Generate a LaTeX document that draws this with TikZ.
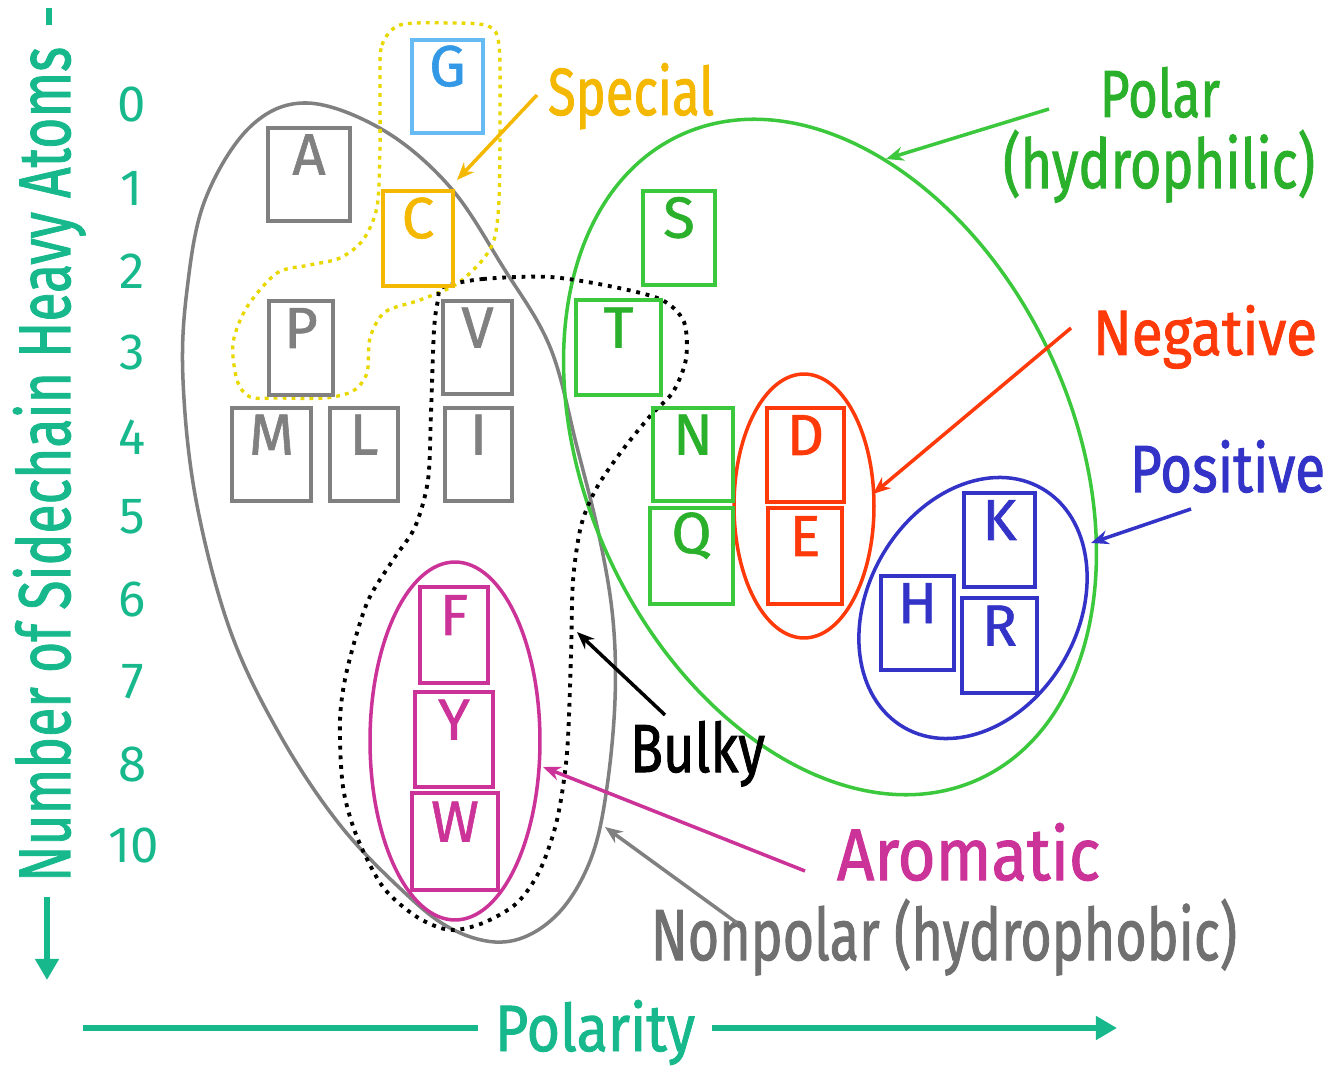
\documentclass[tikz,border=0pt]{standalone}
\usepackage{fontspec}
\setmainfont{Fira Sans}
\newfontfamily\lblfont{Fira Sans}[FakeBold=1.5]
\newfontfamily\boxfont{Fira Sans}[FakeBold=1]
\usetikzlibrary{arrows.meta,fit}
\newdimen\pxd \pxd=0.02cm
\newcommand{\fitt}[3]{\resizebox{#1\pxd}{#2\pxd}{\lblfont #3}}
\definecolor{axc}{HTML}{17B98C}
\definecolor{grayc}{HTML}{808080}
\definecolor{graytxt}{HTML}{707070}
\definecolor{greenc}{HTML}{3CC83C}
\definecolor{greentxt}{HTML}{2BB02B}
\definecolor{redc}{HTML}{FF3A0A}
\definecolor{bluec}{HTML}{3333C8}
\definecolor{magc}{HTML}{CC3399}
\definecolor{yelc}{HTML}{F5B800}
\definecolor{yeldot}{HTML}{E8D800}
\definecolor{gblue}{HTML}{66BBF5}
\definecolor{gtxt}{HTML}{3399E6}
\begin{document}
\begin{tikzpicture}[x=0.02cm, y=-0.02cm,
  lbl/.style={anchor=base west, inner sep=0pt, outer sep=0pt},
  abox/.style={draw=#1, text=#1, line width=2.2pt, inner sep=0pt, text height=22.7pt, text depth=17pt, font=\boxfont\fontsize{33}{33}\selectfont},
  arr/.style={draw=#1, line width=2pt, -{Stealth[length=10pt,width=8pt]}},
  ring/.style={draw=#1, line width=2pt},
  axline/.style={draw=axc, line width=3.4pt},
  num/.style={text=axc, inner sep=0pt, font=\fontsize{29}{29}\selectfont}
]
\useasboundingbox[fill=white] (0,0) rectangle (1329,1077);

% ---- group outlines ----
\draw[ring=grayc] plot[smooth cycle, tension=0.6] coordinates {
 (307,103) (383,130) (450,187) (503,267) (550,347) (577,447) (600,540) (613,620)
 (615,700) (607,787) (593,853) (567,903) (533,933) (495,942) (450,928) (405,893)
 (340,825) (280,735) (230,630) (196,500) (183,380) (187,290) (205,200) (250,127)};
\draw[ring=greenc, rotate around={25:(830,457)}] (830,457) ellipse [x radius=4.86cm, y radius=7.1cm];
\draw[ring=redc] (804,506) ellipse [x radius=1.4cm, y radius=2.64cm];
\draw[ring=bluec, rotate around={-30:(973,608)}] (973,608) ellipse [x radius=2.1cm, y radius=2.76cm];
\draw[ring=magc] (455,741) ellipse [x radius=1.7cm, y radius=3.58cm];
\draw[draw=yeldot, line width=1.9pt, dash pattern=on 2.2pt off 2.9pt] plot[smooth cycle, tension=0.5] coordinates {
 (380,80) (382,45) (400,25) (450,23) (488,26) (499,45) (500,120) (499,200) (494,240)
 (480,263) (455,285) (420,300) (385,312) (370,338) (367,373) (353,391) (325,398)
 (280,398) (250,397) (237,380) (233,343) (247,307) (277,273) (310,265) (340,258)
 (363,240) (377,207) (380,147)};
\draw[draw=black, line width=2.2pt, dash pattern=on 2.2pt off 3.3pt] plot[smooth cycle, tension=0.5] coordinates {
 (443,287) (483,279) (550,277) (614,287) (662,300) (684,322) (686,359) (673,392)
 (651,415) (621,452) (596,489) (581,526) (573,581) (571,655) (567,753) (557,820)
 (540,870) (517,903) (483,923) (450,930) (417,917) (383,887) (357,837) (343,787)
 (340,720) (347,670) (367,603) (393,560) (415,527) (428,480) (431,413) (434,330)
 (438,300)};

% ---- amino-acid boxes ----
\node[abox=gblue, text=gtxt, fit={(412,40) (483,133)}] (G) {G};
\node[abox=grayc, fit={(268,128) (350,221)}] (A) {A};
\node[abox=yelc, fit={(383,191) (453,286)}] (C) {C};
\node[abox=grayc, fit={(269,301) (333,395)}] (P) {P};
\node[abox=grayc, fit={(443,301) (512,394)}] (V) {V};
\node[abox=grayc, fit={(232,408) (311,501)}] (M) {M};
\node[abox=grayc, fit={(330,408) (398,501)}] (L) {L};
\node[abox=grayc, fit={(445,408) (512,501)}] (I) {I};
\node[abox=greenc, text=greentxt, fit={(643,191) (715,285)}] (S) {S};
\node[abox=greenc, text=greentxt, fit={(576,300) (661,395)}] (T) {T};
\node[abox=greenc, text=greentxt, fit={(653,408) (733,501)}] (N) {N};
\node[abox=greenc, text=greentxt, fit={(650,508) (733,604)}] (Q) {Q};
\node[abox=redc, fit={(767,408) (844,502)}] (D) {D};
\node[abox=redc, fit={(768,508) (842,604)}] (E) {E};
\node[abox=bluec, fit={(964,493) (1035,587)}] (K) {K};
\node[abox=bluec, fit={(881,576) (954,670)}] (H) {H};
\node[abox=bluec, fit={(962,598) (1037,693)}] (R) {R};
\node[abox=magc, fit={(420,587) (488,683)}] (F) {F};
\node[abox=magc, fit={(415,692) (493,787)}] (Y) {Y};
\node[abox=magc, fit={(412,793) (498,890)}] (W) {W};

% ---- labels ----
\node[lbl, text=yelc] (special) at (548,115) {\fitt{166}{52}{Special}};
\node[lbl, text=greentxt] (polar) at (1100,117) {\fitt{120}{50}{Polar}};
\node[lbl, text=greentxt] (hydrophilic) at (1003,188) {\fitt{312}{58}{(hydrophilic)}};
\node[lbl, text=redc] (negative) at (1093,355) {\fitt{224}{50}{Negative}};
\node[lbl, text=bluec] (positive) at (1130,492) {\fitt{195}{52}{Positive}};
\node[lbl, text=black] (bulky) at (630,772) {\fitt{135}{51}{Bulky}};
\node[lbl, text=magc] (aromatic) at (837,880) {\fitt{263}{57}{Aromatic}};
\node[lbl, text=graytxt] (nonpolar) at (651,960) {\fitt{586}{61}{Nonpolar (hydrophobic)}};

% ---- label arrows ----
\coordinate (spT) at (537,95);   \coordinate (spH) at (457,180);
\coordinate (poT) at (1049,109); \coordinate (poH) at (886,159);
\coordinate (neT) at (1071,328); \coordinate (neH) at (873,494);
\coordinate (psT) at (1191,509); \coordinate (psH) at (1091,543);
\coordinate (buT) at (665,715);  \coordinate (buH) at (577,632);
\coordinate (arT) at (805,871);  \coordinate (arH) at (543,767);
\coordinate (npT) at (737,923);  \coordinate (npH) at (605,827);
\draw[arr=yelc] (spT) -- (spH);
\draw[arr=greenc] (poT) -- (poH);
\draw[arr=redc] (neT) -- (neH);
\draw[arr=bluec] (psT) -- (psH);
\draw[arr=black] (buT) -- (buH);
\draw[arr=magc] (arT) -- (arH);
\draw[arr=grayc] (npT) -- (npH);

% ---- axes ----
\node[lbl, text=axc, rotate=90] (yaxis) at (70,882) {\fitt{835}{57}{Number of Sidechain Heavy Atoms}};
\coordinate (vt1) at (49,8); \coordinate (vt2) at (49,25);
\draw[axline] (vt1) -- (vt2);
\coordinate (vs) at (47,897); \coordinate (ve) at (47,980);
\draw[axline, -{Triangle[length=12pt,width=13pt]}] (vs) -- (ve);
\node[lbl, text=axc] (polarity) at (495,1051) {\fitt{200}{51}{Polarity}};
\coordinate (hs) at (83,1028); \coordinate (hm) at (478,1028);
\draw[axline] (hs) -- (hm);
\coordinate (hm2) at (712,1028); \coordinate (he) at (1117,1028);
\draw[axline, -{Triangle[length=12pt,width=13pt]}] (hm2) -- (he);

\node[num] (n0) at (132,105) {0};
\node[num] (n1) at (132,188) {1};
\node[num] (n2) at (132,271) {2};
\node[num] (n3) at (132,353) {3};
\node[num] (n4) at (132,437) {4};
\node[num] (n5) at (132,517) {5};
\node[num] (n6) at (132,600) {6};
\node[num] (n7) at (133,682) {7};
\node[num] (n8) at (133,765) {8};
\node[num] (n10) at (134,846) {10};
\end{tikzpicture}
\end{document}
